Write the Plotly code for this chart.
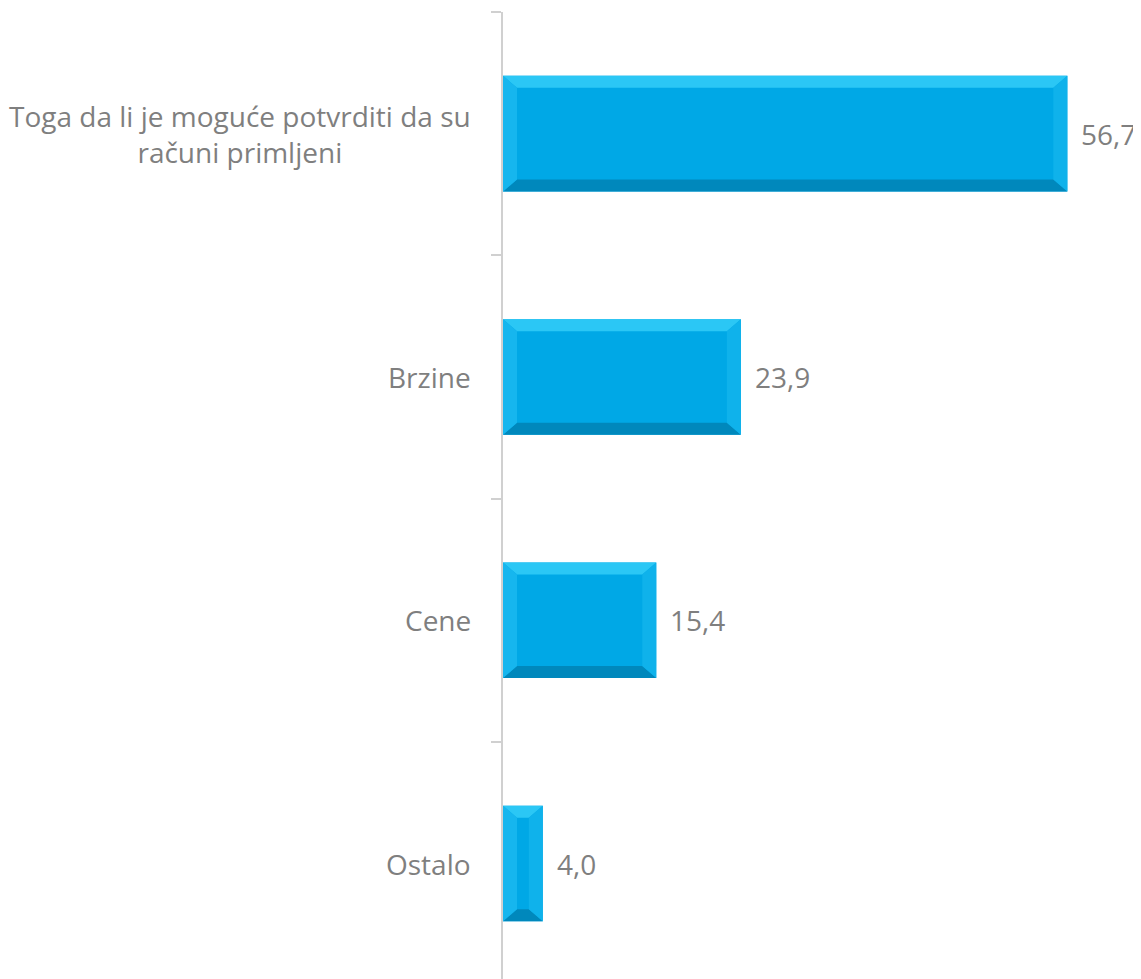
import plotly.graph_objects as go

categories = ["Toga da li je moguće potvrditi da su<br>računi primljeni", "Brzine", "Cene", "Ostalo"]
values = [56.7, 23.9, 15.4, 4.0]
value_labels = ["56,7", "23,9", "15,4", "4,0"]

OFF = 8  # page body margin
W, H = 1141 - OFF, 979 - OFF
ML, MR, MT, MB = 503 - OFF, 0, 12 - OFF, 0
XMAX = 64.1
BAR_W = 0.475
BAND_PX = 243.3
plot_w = W - ML - MR
plot_h = H - MT - MB
px_per_x = plot_w / XMAX
px_per_y = BAND_PX
y_units = plot_h / BAND_PX
bev_x = 14 / px_per_x
bev_y = 12 / px_per_y

FACE = "#00A8E6"
TOP = "#2BC7F5"
LEFT = "#16B6EE"
RIGHT = "#0FB2EB"
BOTTOM = "#0088BC"
TXT = "#7F7F7F"
FONT = "Open Sans, sans-serif"
FS = 28

fig = go.Figure()
fig.add_trace(go.Bar(
    x=values, y=list(range(len(categories))), orientation="h",
    width=BAR_W, marker=dict(color=FACE, line=dict(width=0)),
    hoverinfo="skip",
))

def path(pts):
    return "M " + " L ".join(f"{a},{b}" for a, b in pts) + " Z"

shapes = []
for i, v in enumerate(values):
    y0, y1 = i - BAR_W / 2, i + BAR_W / 2
    x0, x1 = 0, v
    bx = min(bev_x, v / 2)
    ix0, ix1 = x0 + bx, x1 - bx
    iy0, iy1 = y0 + bev_y, y1 - bev_y
    facets = [
        ([(x0, y0), (x1, y0), (ix1, iy0), (ix0, iy0)], TOP),
        ([(x0, y1), (x1, y1), (ix1, iy1), (ix0, iy1)], BOTTOM),
        ([(x0, y0), (ix0, iy0), (ix0, iy1), (x0, y1)], LEFT),
        ([(x1, y0), (ix1, iy0), (ix1, iy1), (x1, y1)], RIGHT),
    ]
    for pts, col in facets:
        shapes.append(dict(type="path", xref="x", yref="y", path=path(pts),
                           fillcolor=col, line=dict(width=0), layer="above"))

annotations = []
for i, (v, lab) in enumerate(zip(values, value_labels)):
    annotations.append(dict(x=v, y=i, xref="x", yref="y", text=lab, showarrow=False,
                            xanchor="left", xshift=12, font=dict(size=FS, color=TXT, family=FONT)))
for i, c in enumerate(categories):
    annotations.append(dict(x=0, y=i, xref="paper", yref="y", text=c, showarrow=False,
                            xanchor="right", xshift=-30, align="center",
                            font=dict(size=FS, color=TXT, family=FONT)))

fig.update_layout(
    width=W, height=H,
    margin=dict(l=ML, r=MR, t=MT, b=MB),
    plot_bgcolor="white", paper_bgcolor="white",
    showlegend=False,
    xaxis=dict(range=[0, XMAX], visible=False, fixedrange=True),
    yaxis=dict(range=[-0.5 + y_units, -0.5], tickmode="array",
               tickvals=[k - 0.5 for k in range(len(categories) + 1)],
               ticktext=[""] * (len(categories) + 1),
               showticklabels=False, showline=True, linecolor="#D0D0D0", linewidth=2,
               ticks="outside", ticklen=10, tickcolor="#D0D0D0", tickwidth=2,
               showgrid=False, zeroline=False, fixedrange=True, type="linear"),
    shapes=shapes,
    annotations=annotations,
)
fig.write_html("out.html")
